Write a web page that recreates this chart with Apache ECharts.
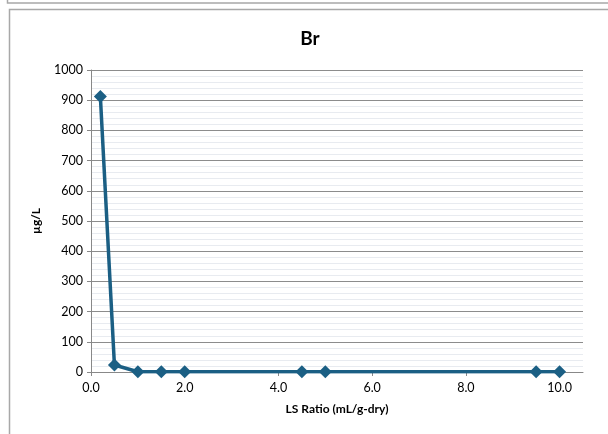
<!DOCTYPE html>
<html>
<head>
<meta charset="utf-8">
<script src="https://cdn.jsdelivr.net/npm/echarts@6/dist/echarts.min.js"></script>
<style>html,body{margin:0;padding:0;background:#fff;overflow:hidden;}#c{width:608px;height:434px;}</style>
</head>
<body>
<div id="c"></div>
<script>
const xValues = [0.2, 0.5, 1.0, 1.5, 2.0, 4.5, 5.0, 9.5, 10.0];
const yValues = [912, 23, 1, 1, 1, 1, 1, 1, 1];
const titleText = 'Br';
const xAxisName = 'LS Ratio (mL/g-dry)';
const yAxisName = 'µg/L';

const chart = echarts.init(document.getElementById('c'));
const font = 'Lato, "Open Sans", sans-serif';
const frame = {stroke: '#a8a8a8', lineWidth: 1.5};
chart.setOption({
  animation: false,
  backgroundColor: '#fff',
  graphic: [
    {type: 'polyline', shape: {points: [[7.5, 0], [7.5, 3], [612, 3]]}, style: Object.assign({fill: 'none'}, frame), silent: true},
    {type: 'polyline', shape: {points: [[612, 9.5], [9.5, 9.5], [9.5, 440]]}, style: Object.assign({fill: 'none'}, frame), silent: true}
  ],
  title: {
    text: titleText, left: 305, top: 24, textAlign: 'center',
    textStyle: {fontFamily: font, fontWeight: 'bold', fontSize: 19, color: '#000'}
  },
  grid: {left: 91, top: 70, right: 25, bottom: 62},
  xAxis: {
    type: 'value', min: 0, max: 10.5, interval: 2,
    name: xAxisName, nameLocation: 'middle', nameGap: 31,
    nameTextStyle: {fontFamily: font, fontWeight: 'bold', fontSize: 12, color: '#000'},
    axisLine: {show: true, onZero: false, lineStyle: {color: '#888', width: 1}},
    axisTick: {show: true, length: 4, lineStyle: {color: '#888'}},
    axisLabel: {showMaxLabel: false, fontFamily: font, fontSize: 12.5, color: '#000', margin: 9,
      formatter: v => v.toFixed(1)},
    splitLine: {show: false}
  },
  yAxis: {
    type: 'value', min: 0, max: 1000, interval: 100,
    name: yAxisName, nameLocation: 'middle', nameGap: 49, nameRotate: 90,
    nameTextStyle: {fontFamily: font, fontWeight: 'bold', fontSize: 12, color: '#000'},
    axisLine: {show: true, lineStyle: {color: '#888', width: 1}},
    axisTick: {show: true, length: 4, lineStyle: {color: '#888'}},
    axisLabel: {fontFamily: font, fontSize: 12.5, color: '#000', margin: 8, formatter: v => String(v)},
    splitLine: {show: true, lineStyle: {color: '#8c8c8c', width: 1}},
    minorTick: {show: false, splitNumber: 5},
    minorSplitLine: {show: true, lineStyle: {color: '#e8ebf0', width: 1}}
  },
  series: [{
    type: 'line',
    data: xValues.map((x, i) => [x, yValues[i]]),
    symbol: 'diamond', symbolSize: 13,
    lineStyle: {color: '#1b5f84', width: 3.5},
    itemStyle: {color: '#1b5f84'}
  }]
});
</script>
</body>
</html>
